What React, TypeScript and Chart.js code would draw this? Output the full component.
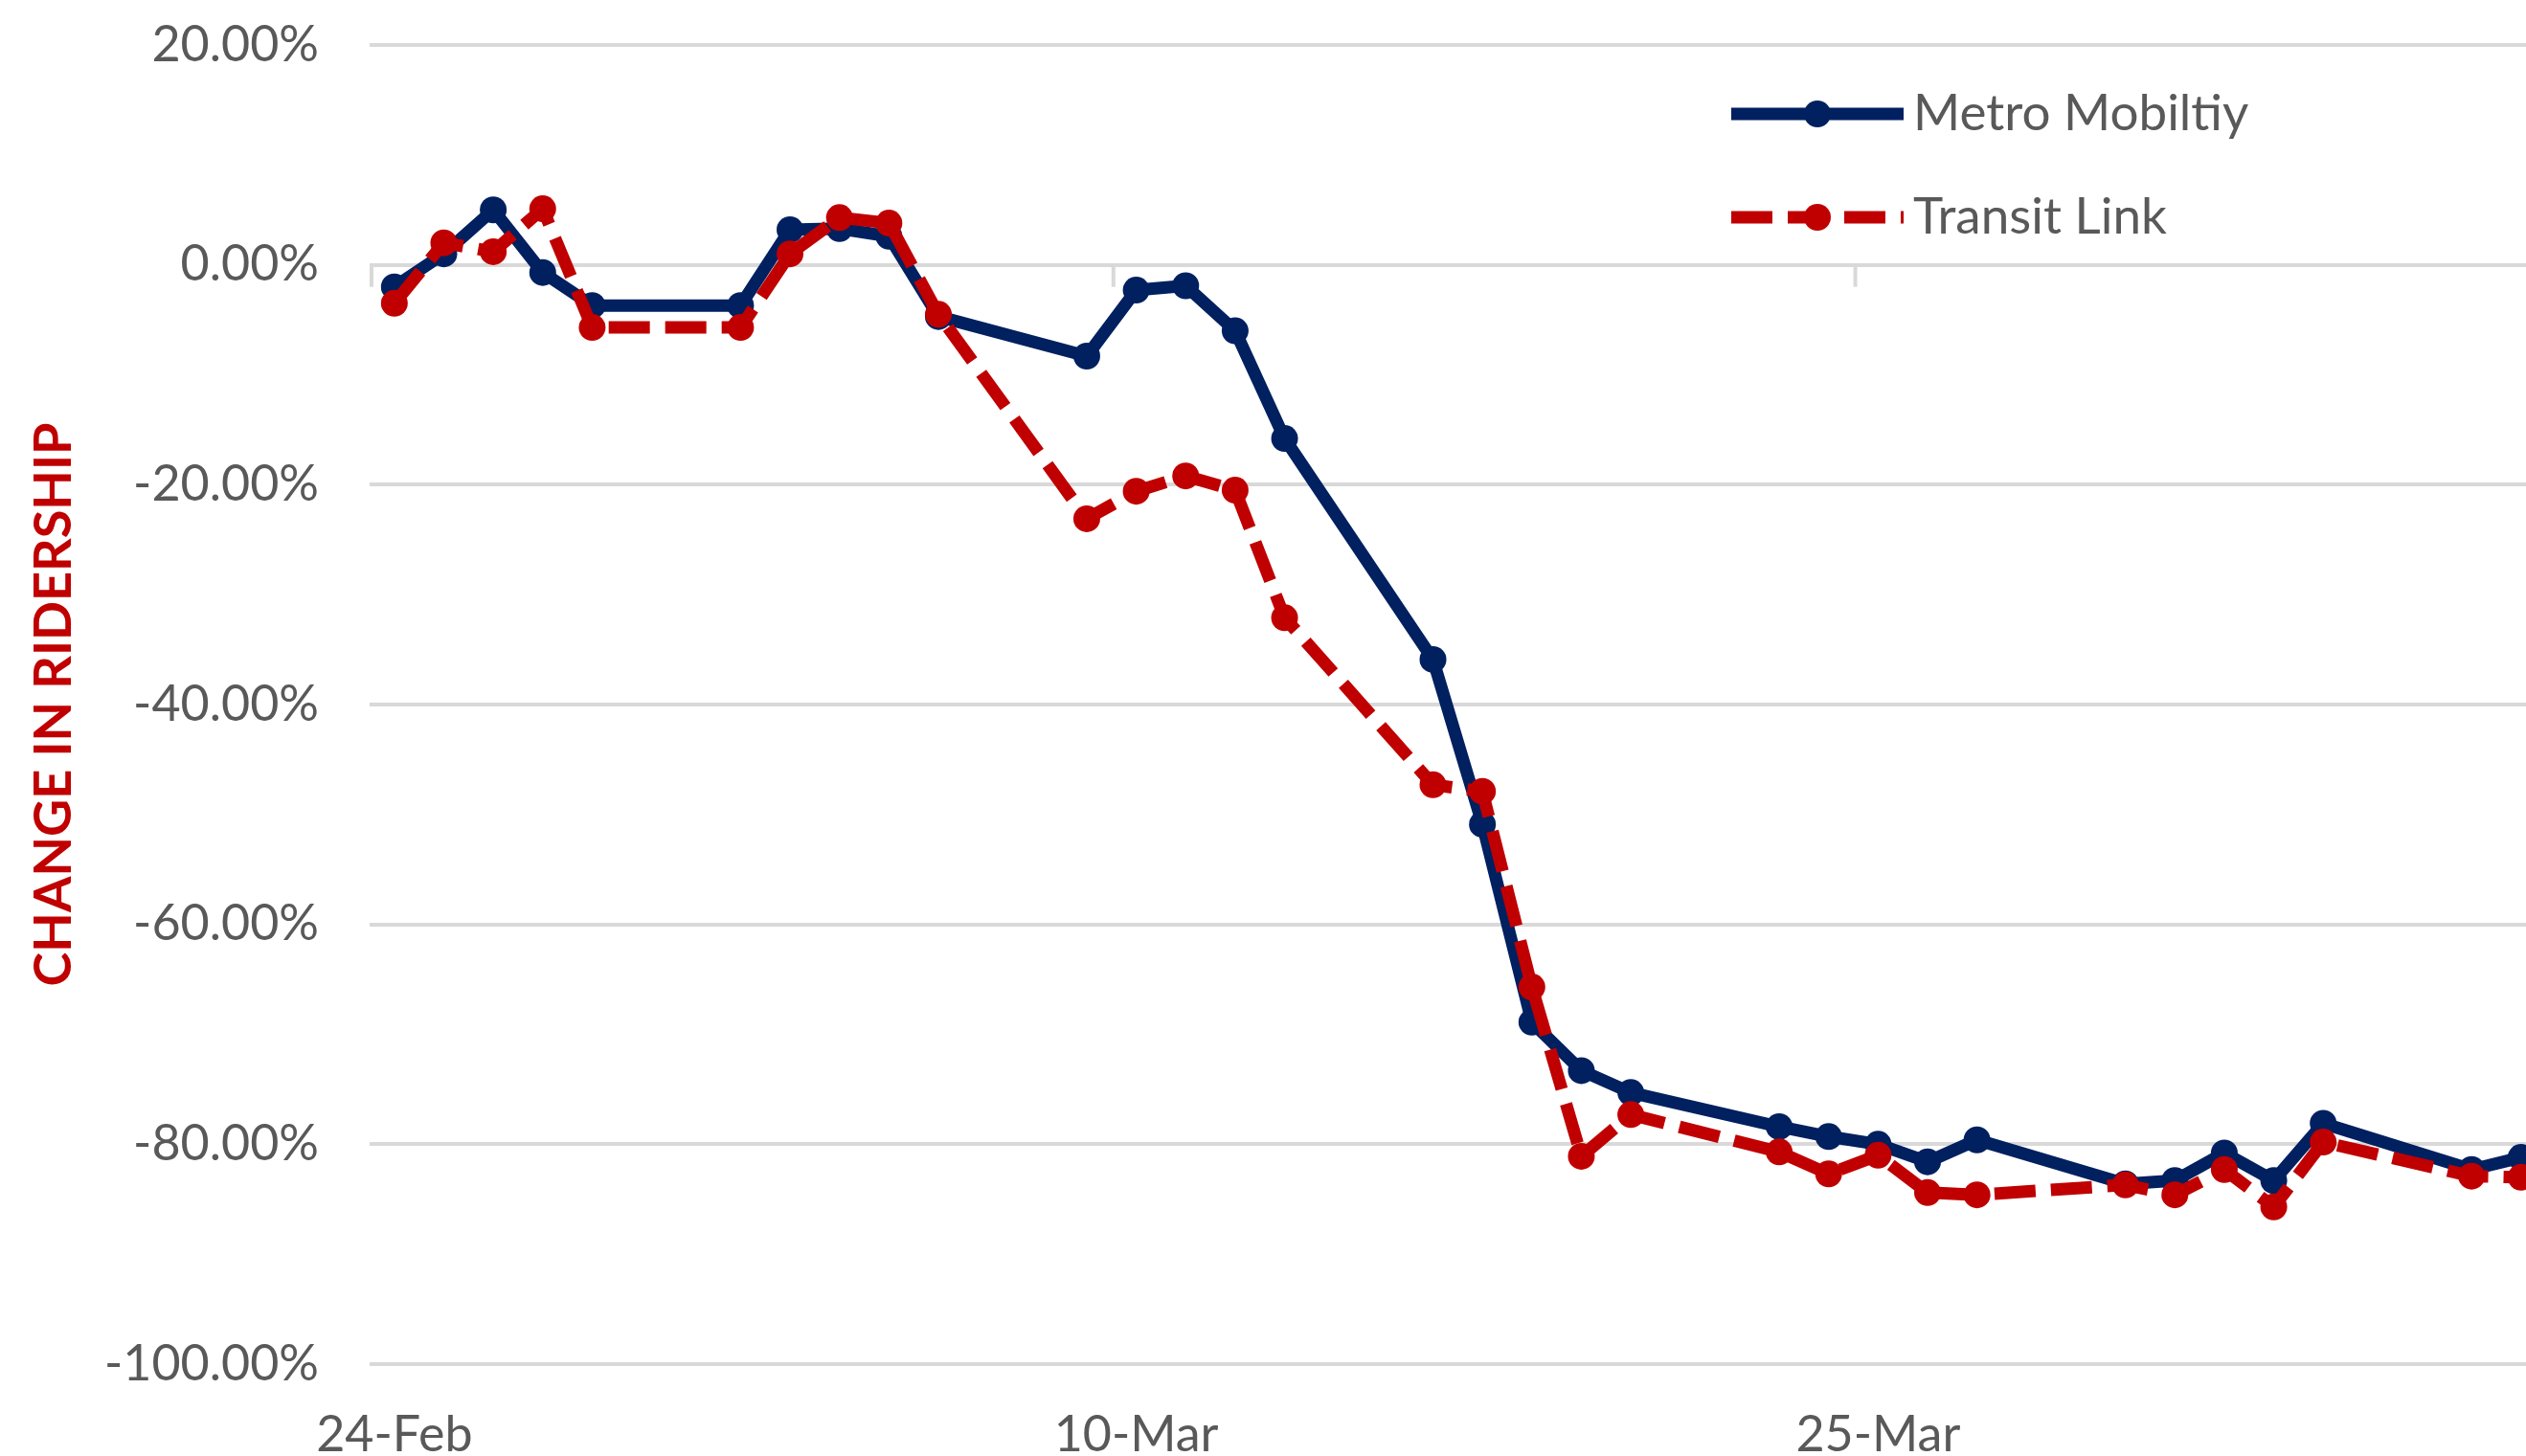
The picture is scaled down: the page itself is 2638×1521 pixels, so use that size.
import { useEffect, useRef } from "react";
import { Chart, registerables } from "chart.js";

Chart.register(...registerables);

// ---- data (weekday observations, % change in ridership) ----
const dates = [
  "2020-02-24", "2020-02-25", "2020-02-26", "2020-02-27", "2020-02-28",
  "2020-03-02", "2020-03-03", "2020-03-04", "2020-03-05", "2020-03-06",
  "2020-03-09", "2020-03-10", "2020-03-11", "2020-03-12", "2020-03-13",
  "2020-03-16", "2020-03-17", "2020-03-18", "2020-03-19", "2020-03-20",
  "2020-03-23", "2020-03-24", "2020-03-25", "2020-03-26", "2020-03-27",
  "2020-03-30", "2020-03-31", "2020-04-01", "2020-04-02", "2020-04-03",
  "2020-04-06", "2020-04-07",
];

const metroMobility = [
  -2.0, 1.0, 5.0, -0.7, -3.7,
  -3.7, 3.2, 3.3, 2.6, -4.7,
  -8.3, -2.3, -1.9, -6.0, -15.8,
  -35.9, -50.9, -68.9, -73.3, -75.3,
  -78.4, -79.3, -80.0, -81.6, -79.6,
  -83.6, -83.3, -80.8, -83.3, -78.1,
  -82.3, -81.2,
];

const transitLink = [
  -3.5, 2.0, 1.2, 5.1, -5.7,
  -5.7, 1.0, 4.3, 3.8, -4.5,
  -23.1, -20.6, -19.2, -20.5, -32.1,
  -47.3, -47.9, -65.7, -81.1, -77.3,
  -80.7, -82.7, -81.0, -84.4, -84.6,
  -83.7, -84.6, -82.3, -85.7, -79.8,
  -82.9, -83.0,
];

const seriesNames = ["Metro Mobiltiy", "Transit Link"];
const seriesColors = ["#002060", "#C00000"];

const xTickDates = ["2020-02-24", "2020-03-10", "2020-03-25"];
const xTickLabels = ["24-Feb", "10-Mar", "25-Mar"];

const yMin = -100;
const yMax = 20;
const yStep = 20;

const axisTitle = "CHANGE IN RIDERSHIP";

// visible window of the date axis, in days after the first date
const VIEW_END_DAYS = 43.6;

const FONT = "Lato, 'Open Sans', 'DejaVu Sans', sans-serif";
const TEXT_GRAY = "#595959";
const GRID_GRAY = "#D9D9D9";

const DAY0 = dates[0];
function dayIndex(s: string): number {
  const p = (t: string) => {
    const [y, m, d] = t.split("-").map(Number);
    return Date.UTC(y, m - 1, d);
  };
  return (p(s) - p(DAY0)) / 86400000;
}

const tickMarkPlugin = {
  id: "dateTickMarks",
  beforeDatasetsDraw(chart: any) {
    const { ctx } = chart;
    const xs = chart.scales.x;
    const ys = chart.scales.y;
    const y0 = ys.getPixelForValue(0);
    ctx.save();
    ctx.strokeStyle = GRID_GRAY;
    ctx.lineWidth = 4;
    xTickDates.forEach((d) => {
      const x = xs.getPixelForValue(dayIndex(d)) + 2;
      ctx.beginPath();
      ctx.moveTo(x, y0);
      ctx.lineTo(x, y0 + 23);
      ctx.stroke();
    });
    ctx.restore();
  },
};

const legendPlugin = {
  id: "insideLegend",
  afterDraw(chart: any) {
    const { ctx, chartArea } = chart;
    const x0 = chartArea.left + 1422;
    const x1 = x0 + 180;
    chart.data.datasets.forEach((ds: any, i: number) => {
      const y = chartArea.top + 72 + i * 108;
      ctx.save();
      ctx.strokeStyle = ds.borderColor;
      ctx.lineWidth = ds.borderWidth;
      ctx.lineCap = "butt";
      ctx.setLineDash(ds.borderDash || []);
      ctx.beginPath();
      ctx.moveTo(x0, y);
      ctx.lineTo(x1, y);
      ctx.stroke();
      ctx.setLineDash([]);
      ctx.fillStyle = ds.pointBackgroundColor;
      ctx.beginPath();
      ctx.arc((x0 + x1) / 2, y, ds.pointRadius, 0, Math.PI * 2);
      ctx.fill();
      ctx.fillStyle = TEXT_GRAY;
      ctx.font = `53px ${FONT}`;
      ctx.textBaseline = "middle";
      ctx.textAlign = "left";
      ctx.fillText(ds.label, x1 + 10, y);
      ctx.restore();
    });
  },
};

export default function App() {
  const canvasRef = useRef<HTMLCanvasElement | null>(null);

  useEffect(() => {
    document.body.style.margin = "0";
    const canvas = canvasRef.current;
    if (!canvas) return;

    const toPoints = (vals: number[]) =>
      vals.map((v, i) => ({ x: dayIndex(dates[i]) + 0.5, y: v }));

    const makeDataset = (idx: number, vals: number[], dashed: boolean, order: number) => ({
      label: seriesNames[idx],
      data: toPoints(vals),
      borderColor: seriesColors[idx],
      backgroundColor: seriesColors[idx],
      pointBackgroundColor: seriesColors[idx],
      pointBorderColor: seriesColors[idx],
      pointBorderWidth: 0,
      pointRadius: 14,
      pointHoverRadius: 14,
      borderWidth: 13,
      borderDash: dashed ? [43, 16] : [],
      borderCapStyle: dashed ? "butt" : "round",
      borderJoinStyle: "round",
      tension: 0,
      fill: false,
      order,
    });

    const chart = new Chart(canvas, {
      type: "line",
      data: {
        datasets: [
          makeDataset(0, metroMobility, false, 1),
          makeDataset(1, transitLink, true, 0),
        ] as any,
      },
      options: {
        animation: false,
        responsive: false,
        maintainAspectRatio: false,
        layout: { autoPadding: false, padding: { top: 47, left: 0, right: 0, bottom: 0 } },
        plugins: {
          legend: { display: false },
          tooltip: { enabled: false },
          title: { display: false },
        },
        scales: {
          x: {
            type: "linear",
            min: 0,
            max: VIEW_END_DAYS,
            grid: { display: false, drawTicks: false },
            border: { display: false },
            afterBuildTicks: (scale: any) => {
              scale.ticks = xTickDates.map((d) => ({ value: dayIndex(d) + 0.5 }));
            },
            afterFit: (scale: any) => {
              scale.height = 96;
              scale.paddingLeft = 0;
              scale.paddingRight = 0;
            },
            ticks: {
              autoSkip: false,
              maxRotation: 0,
              padding: 43,
              color: TEXT_GRAY,
              font: { family: FONT, size: 52 },
              callback: (_v: any, i: number) => xTickLabels[i],
            },
          },
          y: {
            type: "linear",
            min: yMin,
            max: yMax,
            grid: { color: GRID_GRAY, lineWidth: 4, drawTicks: false },
            border: { display: false },
            afterFit: (scale: any) => {
              scale.width = 386;
              scale.paddingTop = 0;
              scale.paddingBottom = 0;
            },
            ticks: {
              stepSize: yStep,
              padding: 53,
              color: TEXT_GRAY,
              font: { family: FONT, size: 52 },
              callback: (v: any) => `${Number(v).toFixed(2)}%`,
            },
            title: {
              display: true,
              text: axisTitle,
              color: "#C00000",
              font: { family: FONT, size: 54, weight: "bold" },
              padding: { top: 24, bottom: 0 },
            },
          },
        },
      },
      plugins: [tickMarkPlugin, legendPlugin],
    });

    return () => {
      chart.destroy();
    };
  }, []);

  return (
    <div style={{ position: "fixed", left: 0, top: 0, width: 2638, height: 1521, background: "#fff" }}>
      <canvas ref={canvasRef} width={2638} height={1521} style={{ display: "block" }} />
    </div>
  );
}
